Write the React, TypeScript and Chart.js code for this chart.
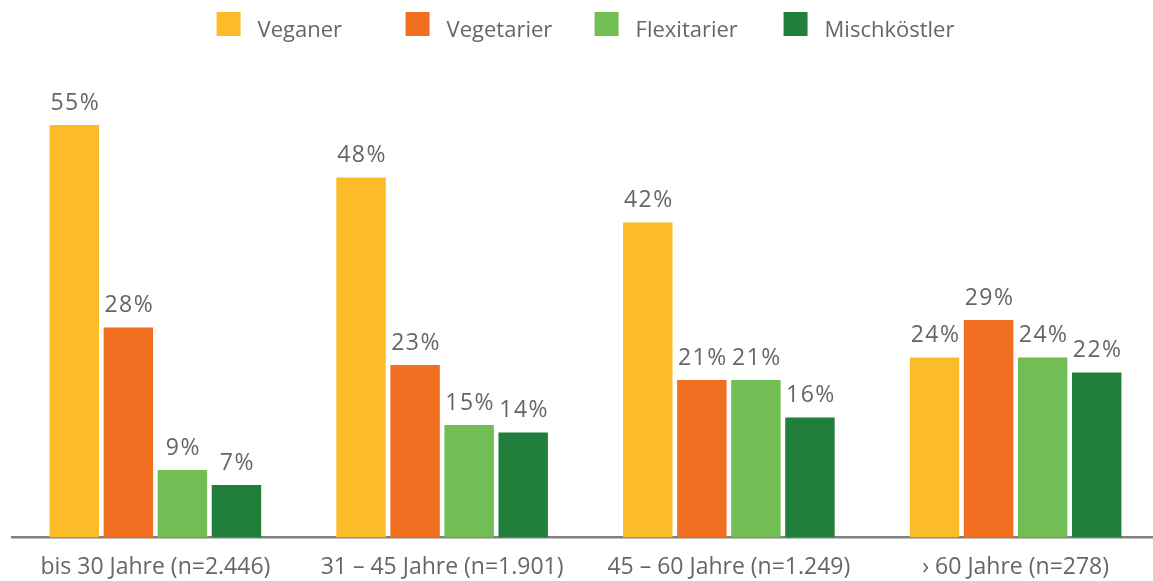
import React, { useEffect, useRef } from "react";
import { Chart, registerables } from "chart.js";

Chart.register(...registerables);

const categories = [
  "bis 30 Jahre (n=2.446)",
  "31 – 45 Jahre (n=1.901)",
  "45 – 60 Jahre (n=1.249)",
  "› 60 Jahre (n=278)",
];
const seriesNames = ["Veganer", "Vegetarier", "Flexitarier", "Mischköstler"];
const veganer = [55, 48, 42, 24];
const vegetarier = [28, 23, 21, 29];
const flexitarier = [9, 15, 21, 24];
const mischkoestler = [7, 14, 16, 22];
const seriesColors = ["#FCBB29", "#F26F22", "#71BF54", "#217E3B"];

const FONT = '"Open Sans", "Noto Sans", sans-serif';
const TEXT_COLOR = "#666666";

const legendPlugin = {
  id: "customLegend",
  afterDraw(chart: any) {
    const ctx = chart.ctx as CanvasRenderingContext2D;
    const ds = chart.data.datasets;
    const box = 24;
    const gap = 17;
    const step = 189;
    ctx.save();
    ctx.font = `22px ${FONT}`;
    const lastW = box + gap + ctx.measureText(ds[ds.length - 1].label).width;
    const total = step * (ds.length - 1) + lastW;
    const cx = (chart.chartArea.left + chart.chartArea.right) / 2;
    let x = cx - total / 2;
    const top = 12;
    ds.forEach((d: any) => {
      ctx.fillStyle = d.backgroundColor;
      ctx.fillRect(x, top, box, box);
      ctx.fillStyle = TEXT_COLOR;
      ctx.textBaseline = "alphabetic";
      ctx.textAlign = "left";
      ctx.fillText(d.label, x + box + gap, top + 25);
      x += step;
    });
    ctx.restore();
  },
};

const valueLabelPlugin = {
  id: "valueLabels",
  afterDatasetsDraw(chart: any) {
    const ctx = chart.ctx as CanvasRenderingContext2D;
    ctx.save();
    ctx.font = `23px ${FONT}`;
    (ctx as any).letterSpacing = "1.5px";
    ctx.fillStyle = TEXT_COLOR;
    ctx.textAlign = "center";
    ctx.textBaseline = "alphabetic";
    chart.data.datasets.forEach((d: any, i: number) => {
      const meta = chart.getDatasetMeta(i);
      meta.data.forEach((el: any, j: number) => {
        ctx.fillText(`${d.data[j]}%`, el.x + 1, el.y - 15);
      });
    });
    ctx.restore();
  },
};

export default function App() {
  const canvasRef = useRef<HTMLCanvasElement | null>(null);

  useEffect(() => {
    if (!canvasRef.current) return;
    const allSeries = [veganer, vegetarier, flexitarier, mischkoestler];
    const chart = new Chart(canvasRef.current, {
      type: "bar",
      data: {
        labels: categories,
        datasets: allSeries.map((values, i) => ({
          label: seriesNames[i],
          data: values,
          backgroundColor: seriesColors[i],
          borderWidth: 0,
          categoryPercentage: 0.754,
          barPercentage: 0.915,
        })),
      },
      options: {
        animation: false,
        responsive: true,
        maintainAspectRatio: false,
        layout: { padding: { top: 87.5, left: 12, right: 7, bottom: -16 } },
        plugins: {
          legend: { display: false },
          tooltip: { enabled: false },
          title: { display: false },
        },
        scales: {
          x: {
            grid: { display: false, drawTicks: false },
            border: { display: true, color: "#808080", width: 2.5 },
            ticks: {
              color: TEXT_COLOR,
              font: { family: FONT, size: 23 },
              padding: 16,
              maxRotation: 0,
            },
          },
          y: {
            display: false,
            min: 0,
            max: 60,
          },
        },
      },
      plugins: [legendPlugin, valueLabelPlugin],
    });
    return () => chart.destroy();
  }, []);

  return (
    <div
      style={{
        position: "fixed",
        left: 0,
        top: 0,
        width: 1166,
        height: 581,
        background: "#ffffff",
      }}
    >
      <canvas ref={canvasRef} />
    </div>
  );
}
